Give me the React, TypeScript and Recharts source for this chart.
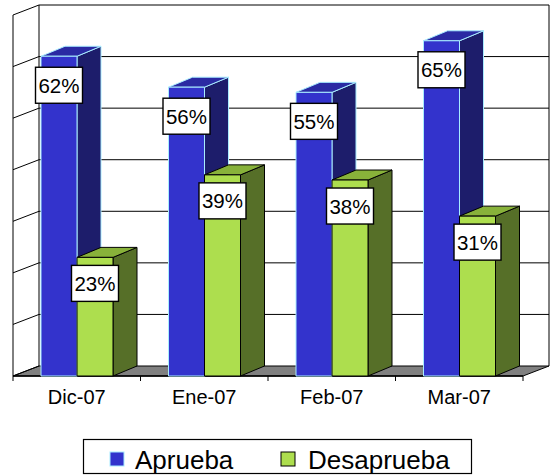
import React from 'react';
import {BarChart, Bar, XAxis, YAxis, CartesianGrid, LabelList} from 'recharts';

const categories = ['Dic-07', 'Ene-07', 'Feb-07', 'Mar-07'];
const aprueba = [62, 56, 55, 65];
const desaprueba = [23, 39, 38, 31];
const yTicks = [0, 10, 20, 30, 40, 50, 60, 70];
const seriesNames = ['Aprueba', 'Desaprueba'];

const data = categories.map((cat, i) => ({cat, aprueba: aprueba[i], desaprueba: desaprueba[i]}));

const W = 553;
const H = 476;
const MARGIN = {top: 15, right: 30, left: 13, bottom: 80};
const XAXIS_H = 20;
const PLOT_TOP = MARGIN.top;
const PLOT_BOTTOM = H - MARGIN.bottom - XAXIS_H;

// depth of the walls and of the bars (oblique projection)
const WALL_DX = 26;
const WALL_DY = -10;
const BAR_DX = 24;
const BAR_DY = -10;

const FONT = '"Liberation Sans", Arial, sans-serif';

const BLUE = {front: '#3333CC', top: '#2A2AA3', side: '#1D1D6B', stroke: '#A8ECFF'};
const GREEN = {front: '#ADDE4E', top: '#88B23A', side: '#566F28', stroke: '#000000'};

// grid lines are drawn on the back wall and on the left wall; the floor is drawn with the 0 line
const gridLine = (p: any) => {
    const {x1, x2, y1} = p;
    const isBottom = Math.abs(y1 - PLOT_BOTTOM) < 0.5;
    const isTop = Math.abs(y1 - PLOT_TOP) < 0.5;
    const n = categories.length;
    return (
        <g key={p.key}>
            {isBottom ? (
                <g>
                    <polygon
                        points={`${x1},${y1} ${x2},${y1} ${x2 + WALL_DX},${y1 + WALL_DY} ${x1 + WALL_DX},${y1 + WALL_DY}`}
                        fill="#808080" stroke="#000" strokeWidth={1}/>
                    <line x1={x1} y1={y1} x2={x2} y2={y1} stroke="#000" strokeWidth={1.5}/>
                    {Array.from({length: n + 1}, (_, k) => {
                        const tx = x1 + (k * (x2 - x1)) / n;
                        return <line key={k} x1={tx} y1={y1} x2={tx} y2={y1 + 5} stroke="#000"/>;
                    })}
                </g>
            ) : (
                <line x1={x1 + WALL_DX} y1={y1 + WALL_DY} x2={x2 + WALL_DX} y2={y1 + WALL_DY} stroke="#000"/>
            )}
            <line x1={x1} y1={y1} x2={x1 + WALL_DX} y2={y1 + WALL_DY} stroke="#000"/>
            {isTop && (
                <g>
                    <line x1={x1} y1={y1} x2={x1} y2={PLOT_BOTTOM} stroke="#000"/>
                    <line x1={x1 + WALL_DX} y1={y1 + WALL_DY} x2={x1 + WALL_DX} y2={PLOT_BOTTOM + WALL_DY} stroke="#000"/>
                    <line x1={x2 + WALL_DX} y1={y1 + WALL_DY} x2={x2 + WALL_DX} y2={PLOT_BOTTOM + WALL_DY} stroke="#000"/>
                </g>
            )}
        </g>
    );
};

const box3D = (c: typeof BLUE) => (props: any) => {
    const {x, y, width, height} = props;
    if (!height) return <g/>;
    const r = x + width;
    const b = y + height;
    return (
        <g stroke={c.stroke} strokeWidth={1} strokeLinejoin="round">
            <polygon points={`${r},${y} ${r + BAR_DX},${y + BAR_DY} ${r + BAR_DX},${b + BAR_DY} ${r},${b}`} fill={c.side}/>
            <polygon points={`${x},${y} ${r},${y} ${r + BAR_DX},${y + BAR_DY} ${x + BAR_DX},${y + BAR_DY}`} fill={c.top}/>
            <rect x={x} y={y} width={width} height={height} fill={c.front}/>
        </g>
    );
};

const boxLabel = (dTop: number) => (props: any) => {
    const vb = props.viewBox ?? props;
    const x = vb.x ?? props.x;
    const y = vb.y ?? props.y;
    const width = vb.width ?? props.width;
    const cx = x + width / 2;
    const top = y + dTop;
    return (
        <g>
            <rect x={cx - 23.5} y={top} width={47} height={36} fill="#fff" stroke="#000" strokeWidth={1.4}/>
            <text x={cx} y={top + 25.5} textAnchor="middle" fontSize={20.5} fontFamily={FONT} fill="#000">
                {props.value}%
            </text>
        </g>
    );
};

const LegendBox = () => (
    <svg width={W} height={H} style={{position: 'absolute', left: 0, top: 0, pointerEvents: 'none'}}>
        <rect x={83.5} y={439.5} width={388} height={34} fill="#fff" stroke="#000" strokeWidth={1.2}/>
        <rect x={110} y={452} width={14} height={14} fill={BLUE.front} stroke={BLUE.stroke}/>
        <text x={135} y={468.5} fontSize={26} fontFamily={FONT} fill="#000">{seriesNames[0]}</text>
        <rect x={281} y={452} width={14} height={14} fill={GREEN.front} stroke="#000"/>
        <text x={308} y={468.5} fontSize={26} fontFamily={FONT} fill="#000">{seriesNames[1]}</text>
    </svg>
);

export default function App() {
    return (
        <div style={{position: 'absolute', left: 0, top: 0, width: W, height: H, background: '#fff'}}>
            <BarChart width={W} height={H} data={data} margin={MARGIN} barGap={0} barSize={36}>
                <CartesianGrid vertical={false} horizontal={gridLine}/>
                <YAxis hide domain={[0, 70]} ticks={yTicks} type="number"/>
                <XAxis dataKey="cat" height={XAXIS_H} axisLine={false} tickLine={false} tickSize={6} tickMargin={8}
                       tick={{fontSize: 20, fontFamily: FONT, fill: '#000'}} interval={0}/>
                <Bar dataKey="aprueba" shape={box3D(BLUE)} isAnimationActive={false}>
                    <LabelList dataKey="aprueba" content={boxLabel(11)}/>
                </Bar>
                <Bar dataKey="desaprueba" shape={box3D(GREEN)} isAnimationActive={false}>
                    <LabelList dataKey="desaprueba" content={boxLabel(8)}/>
                </Bar>
            </BarChart>
            <LegendBox/>
        </div>
    );
}
